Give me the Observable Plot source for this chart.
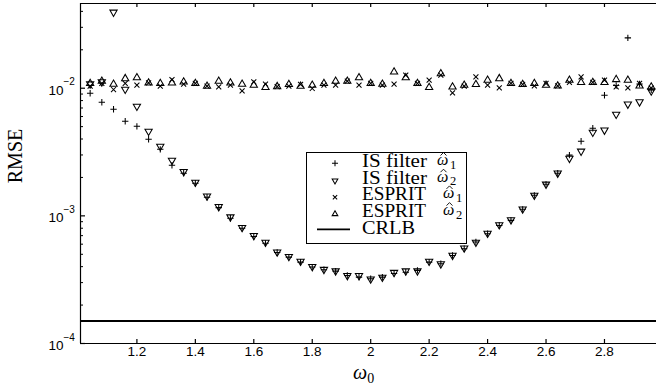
<!DOCTYPE html>
<html><head><meta charset="utf-8">
<script src="https://cdn.jsdelivr.net/npm/d3@7"></script>
<script src="https://cdn.jsdelivr.net/npm/@observablehq/plot@0.6"></script>
<style>
body{margin:0;background:#fff}
#chart{position:relative;width:656px;height:390px}
</style>
</head><body><div id="chart"></div>
<script>
// omega_0 sample positions
const omega = [1.04,1.08,1.12,1.16,1.20,1.24,1.28,1.32,1.36,1.40,1.44,1.48,1.52,1.56,1.60,1.64,1.68,1.72,1.76,1.80,1.84,1.88,1.92,1.96,2.00,2.04,2.08,2.12,2.16,2.20,2.24,2.28,2.32,2.36,2.40,2.44,2.48,2.52,2.56,2.60,2.64,2.68,2.72,2.76,2.80,2.84,2.88,2.92,2.96];
// IS filter, omega-hat 1 (+)
const isFilter1 = [0.00914,0.00777,0.00684,0.00551,0.00503,0.00398,0.00332,0.00249,0.00216,0.00180,0.00140,0.00116,0.000958,0.000799,0.000689,0.000609,0.000516,0.000475,0.000434,0.000397,0.000378,0.000369,0.000341,0.000331,0.000322,0.000331,0.000354,0.000362,0.000374,0.000434,0.000422,0.000490,0.000553,0.000624,0.000725,0.000841,0.000922,0.001125,0.001448,0.001766,0.002155,0.00299,0.00384,0.00486,0.00881,0.0105,0.0248,0.0108,0.0097];
// IS filter, omega-hat 2 (down triangle)
const isFilter2 = [0.0108,0.0112,0.0394,0.0098,0.00722,0.00460,0.00351,0.00272,0.00222,0.00183,0.00143,0.00118,0.00098,0.00081,0.00070,0.00062,0.00052,0.00048,0.00044,0.00040,0.00038,0.00037,0.00034,0.00034,0.00032,0.00033,0.00036,0.00037,0.00037,0.00044,0.00042,0.00049,0.00056,0.00062,0.00073,0.00085,0.00093,0.00113,0.00145,0.00177,0.00216,0.00282,0.00321,0.00451,0.00469,0.00625,0.00750,0.00781,0.0095];
// ESPRIT, omega-hat 1 (x)
const esprit1 = [0.01037,0.0109,0.00977,0.0109,0.01056,0.0110,0.01037,0.0117,0.01075,0.0109,0.01037,0.01024,0.01056,0.00952,0.0112,0.01075,0.0103,0.01037,0.0107,0.00995,0.01056,0.01056,0.01135,0.01056,0.0109,0.01056,0.01075,0.01265,0.0109,0.01155,0.01265,0.00919,0.01037,0.01226,0.01056,0.01006,0.0109,0.0107,0.01042,0.0109,0.01042,0.0111,0.01226,0.0111,0.01155,0.01024,0.01006,0.0109,0.0100];
// ESPRIT, omega-hat 2 (up triangle)
const esprit2 = [0.0109,0.01135,0.01075,0.0119,0.0121,0.0110,0.0109,0.0110,0.0112,0.0109,0.01037,0.01135,0.0110,0.01075,0.01056,0.01013,0.0103,0.0107,0.01037,0.01056,0.0109,0.01135,0.01135,0.0121,0.0109,0.01075,0.0134,0.0121,0.0109,0.01013,0.0130,0.01024,0.01056,0.0107,0.01155,0.0119,0.0109,0.0107,0.0109,0.01056,0.01042,0.01155,0.0111,0.0111,0.0111,0.0117,0.01155,0.01042,0.01024];
const crlb = [1.5e-4];

const xTicks = [1.2,1.4,1.6,1.8,2.0,2.2,2.4,2.6,2.8];
const xTickLabels = ["1.2","1.4","1.6","1.8","2","2.2","2.4","2.6","2.8"];
const yMajor = [1e-4,1e-3,1e-2];
const yExponents = ["\u22124","\u22123","\u22122"];
const yMinor = [2e-4,3e-4,4e-4,5e-4,6e-4,7e-4,8e-4,9e-4,2e-3,3e-3,4e-3,5e-3,6e-3,7e-3,8e-3,9e-3,2e-2,3e-2,4e-2];
const xDomain = [1.007, 2.978];
const yDomain = [1e-4, 0.0461];

const legendLabels = ["IS filter","IS filter","ESPRIT","ESPRIT","CRLB"];
const legendSubs = ["1","2","1","2",null];

const W = 656, H = 390, mL = 80, mR = 0, mT = 3, mB = 47;
const frameW = W - mL - mR, frameH = H - mT - mB;

const triDown = {
  draw(ctx, size) {
    const y = Math.sqrt(size / (Math.sqrt(3) * 3));
    ctx.moveTo(0, 2 * y);
    ctx.lineTo(-Math.sqrt(3) * y, -y);
    ctx.lineTo(Math.sqrt(3) * y, -y);
    ctx.closePath();
  }
};
const sym = {
  plus: {type: "plus", r: 2.2},
  down: {type: triDown, r: 2.7},
  times: {type: "times", r: 2.4},
  up: {type: "triangle", r: 2.7}
};
const rows = (ys) => omega.map((x, i) => ({x, y: ys[i]}));
const yTickRows = yMajor.map((v, i) => ({v, e: yExponents[i]}));
const xTickRows = xTicks.map((v, i) => ({v, t: xTickLabels[i]}));
const ink = "#000";
const sw = 1.05;

const plot = Plot.plot({
  width: W, height: H,
  marginLeft: mL, marginRight: mR, marginTop: mT, marginBottom: mB,
  style: {fontFamily: "'Liberation Sans', Arial, sans-serif", fontSize: "13px", background: "white", color: "black"},
  x: {domain: xDomain, axis: null},
  y: {type: "log", domain: yDomain, axis: null},
  marks: [
    Plot.ruleY(crlb, {stroke: "black", strokeWidth: 1.8}),
    Plot.dot(rows(isFilter1), {x: "x", y: "y", symbol: sym.plus.type, r: sym.plus.r, stroke: ink, strokeWidth: sw}),
    Plot.dot(rows(isFilter2), {x: "x", y: "y", symbol: sym.down.type, r: sym.down.r, stroke: ink, fill: "none", strokeWidth: sw}),
    Plot.dot(rows(esprit1), {x: "x", y: "y", symbol: sym.times.type, r: sym.times.r, stroke: ink, strokeWidth: sw}),
    Plot.dot(rows(esprit2), {x: "x", y: "y", symbol: sym.up.type, r: sym.up.r, stroke: ink, fill: "none", strokeWidth: sw}),
    // frame
    Plot.ruleX([xDomain[0]], {stroke: "black", strokeWidth: 1.2}),
    Plot.ruleY([yDomain[0]], {stroke: "black", strokeWidth: 1.2}),
    Plot.ruleY([yDomain[1]], {stroke: "black", strokeWidth: 1.2}),
    // ticks (inward)
    Plot.tickX(xTicks, {x: d => d, insetTop: frameH - 4, stroke: "black", strokeWidth: 1.2}),
    Plot.tickX(xTicks, {x: d => d, insetBottom: frameH - 4, stroke: "black", strokeWidth: 1.2}),
    Plot.tickY(yMajor, {y: d => d, insetRight: frameW - 5, stroke: "black", strokeWidth: 1.2}),
    Plot.tickY(yMinor, {y: d => d, insetRight: frameW - 3, stroke: "black", strokeWidth: 1}),
    // tick labels
    Plot.text(xTickRows, {x: "v", frameAnchor: "bottom", text: "t", dy: 12, fontSize: 13.5, fill: "black"}),
    Plot.text(yTickRows, {y: "v", frameAnchor: "left", text: () => "10", textAnchor: "end", dx: -17, dy: 2, fontSize: 13.5, fill: "black"}),
    Plot.text(yTickRows, {y: "v", frameAnchor: "left", text: "e", textAnchor: "start", dx: -17, dy: -6, fontSize: 10, fill: "black"})
  ]
});
document.getElementById("chart").appendChild(plot);

// axis titles and legend
const svg = d3.select(plot);
const serif = "'Liberation Serif', 'Times New Roman', serif";
svg.append("text").attr("transform", "translate(22,156) rotate(-90)")
  .attr("text-anchor", "middle").attr("font-family", serif).attr("font-size", 20).attr("fill", "black").text("RMSE");
const xl = svg.append("text").attr("x", 353).attr("y", 379).attr("text-anchor", "start")
  .attr("font-family", serif).attr("font-size", 20).attr("fill", "black");
xl.append("tspan").attr("font-style", "italic").text("\u03C9");
xl.append("tspan").attr("font-size", 14).attr("dy", 4).text("0");

const lg = svg.append("g").attr("text-anchor", "start");
lg.append("rect").attr("x", 306.5).attr("y", 152.5).attr("width", 160).attr("height", 91)
  .attr("fill", "white").attr("stroke", "black").attr("stroke-width", 1);
const legendSyms = [sym.plus, sym.down, sym.times, sym.up];
const d3sym = {plus: d3.symbolPlus, times: d3.symbolTimes, triangle: d3.symbolTriangle};
const rowY = [167, 183.7, 200.4, 217.1, 233.8];
const symY = [163.3, 180.7, 197.3, 214, 229.3];
const labelLen = [65, 65, 64, 64, 53];
for (let i = 0; i < 5; i++) {
  if (i < 4) {
    const s = legendSyms[i];
    const t = typeof s.type === "string" ? d3sym[s.type] : s.type;
    lg.append("path").attr("transform", `translate(335,${symY[i]})`)
      .attr("d", d3.symbol(t, Math.PI * 2.1 * 2.1)())
      .attr("fill", "none").attr("stroke", ink).attr("stroke-width", sw);
  } else {
    lg.append("line").attr("x1", 317).attr("x2", 350).attr("y1", symY[i]).attr("y2", symY[i])
      .attr("stroke", "black").attr("stroke-width", 1.8);
  }
  lg.append("text").attr("x", 362).attr("y", rowY[i]).attr("font-family", serif).attr("font-size", 18)
    .attr("textLength", labelLen[i]).attr("lengthAdjust", "spacingAndGlyphs")
    .attr("fill", "black").text(legendLabels[i]);
  if (legendSubs[i]) {
    const ox = i < 2 ? 437 : 443;
    const by = rowY[i] - 2;
    lg.append("text").attr("x", ox).attr("y", by).attr("font-family", serif).attr("font-style", "italic")
      .attr("font-size", 16).attr("fill", "black").text("\u03C9");
    // hat accent
    lg.append("path").attr("d", `M${ox + 3.5},${by - 9.5} L${ox + 6.5},${by - 12.5} L${ox + 9.5},${by - 9.5}`)
      .attr("fill", "none").attr("stroke", "black").attr("stroke-width", 0.9);
    lg.append("text").attr("x", ox + 13).attr("y", rowY[i] + 1.5).attr("font-family", serif)
      .attr("font-size", 12.5).attr("fill", "black").text(legendSubs[i]);
  }
}
</script>
</body></html>
